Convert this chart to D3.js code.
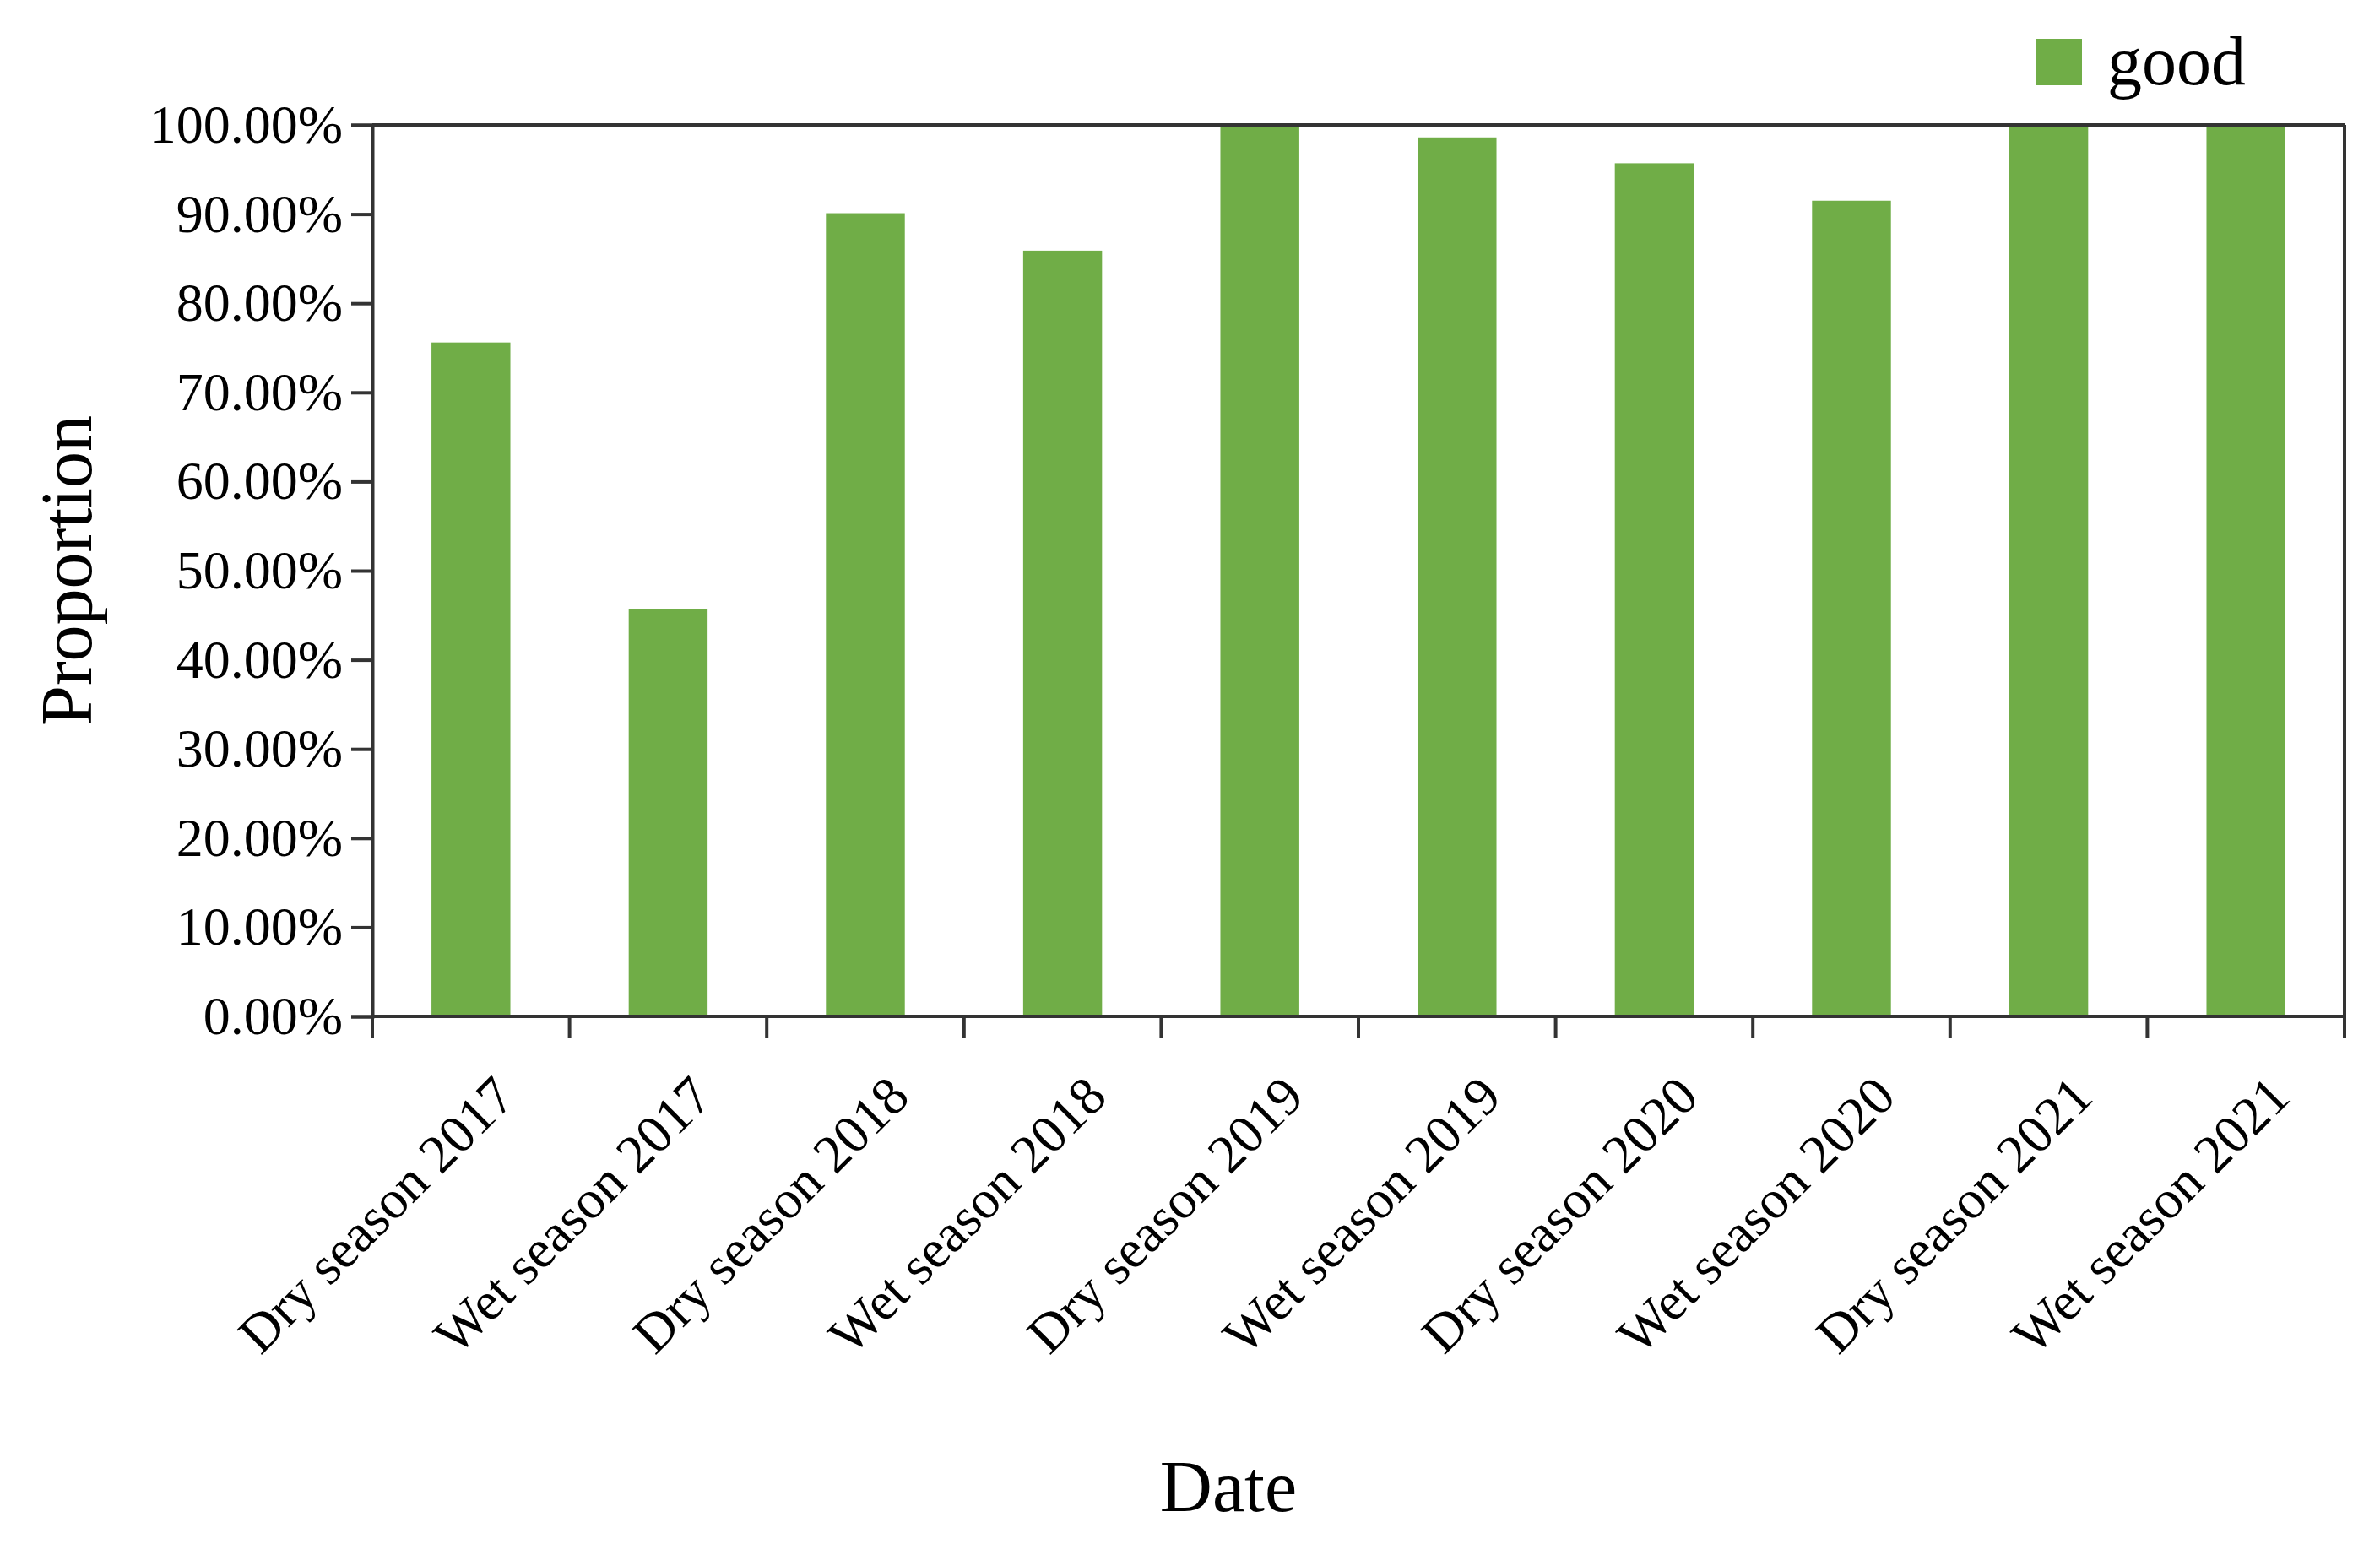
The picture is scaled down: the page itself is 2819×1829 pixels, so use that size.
<!DOCTYPE html>
<html>
<head>
<meta charset="utf-8">
<script src="https://d3js.org/d3.v7.min.js"></script>
<style>
  body { margin: 0; background: #fff; }
  text { font-family: "Liberation Serif", "Times New Roman", serif; fill: #000; }
</style>
</head>
<body>
<svg id="chart" width="2819" height="1829"></svg>
<script>
'use strict';

var categories = ['Dry season 2017', 'Wet season 2017', 'Dry season 2018', 'Wet season 2018',
    'Dry season 2019', 'Wet season 2019', 'Dry season 2020', 'Wet season 2020',
    'Dry season 2021', 'Wet season 2021'];
var goodValues = [75.6, 45.7, 90.1, 85.9, 100, 98.6, 95.7, 91.5, 100, 100];
var yTicks = [0, 10, 20, 30, 40, 50, 60, 70, 80, 90, 100];

function drawChart() {
    var BAR_COLOR = '#70AD47';
    var AXIS_COLOR = '#333';
    var plotLeft = 441, plotRight = 2777, plotTop = 148, plotBottom = 1204;

    var svg = d3.select('#chart');

    var x = d3.scaleBand().domain(categories).range([plotLeft, plotRight]).paddingInner(0).paddingOuter(0);
    var y = d3.scaleLinear().domain([0, 100]).range([plotBottom, plotTop]);

    // bars
    svg.selectAll('.bar').data(goodValues).enter().append('rect')
        .attr('class', 'bar')
        .attr('x', function (d, i) { return x(categories[i]) + x.bandwidth() * 0.3; })
        .attr('width', x.bandwidth() * 0.4)
        .attr('y', function (d) { return y(d); })
        .attr('height', function (d) { return plotBottom - y(d); })
        .attr('fill', BAR_COLOR);

    // frame: top and right
    svg.append('line').attr('x1', plotLeft).attr('x2', plotRight).attr('y1', plotTop).attr('y2', plotTop)
        .attr('stroke', AXIS_COLOR).attr('stroke-width', 4);
    svg.append('line').attr('x1', plotRight).attr('x2', plotRight).attr('y1', plotTop).attr('y2', plotBottom)
        .attr('stroke', AXIS_COLOR).attr('stroke-width', 4);

    // y axis
    var yAxis = svg.append('g').attr('transform', 'translate(' + plotLeft + ',0)')
        .call(d3.axisLeft(y).tickValues(yTicks).tickSize(25).tickPadding(10)
            .tickFormat(function (d) { return d.toFixed(2) + '%'; }));
    yAxis.selectAll('path, line').attr('stroke', AXIS_COLOR).attr('stroke-width', 4);
    yAxis.selectAll('text').attr('font-size', 64).attr('fill', '#000')
        .attr('font-family', '"Liberation Serif", serif');

    // x axis: ticks at band boundaries
    var xAxis = svg.append('g').attr('transform', 'translate(0,' + plotBottom + ')');
    xAxis.append('line').attr('x1', plotLeft).attr('x2', plotRight).attr('stroke', AXIS_COLOR).attr('stroke-width', 4);
    var bounds = categories.map(function (c) { return x(c); }).concat([plotRight]);
    xAxis.selectAll('.xtick').data(bounds).enter().append('line')
        .attr('x1', function (d) { return d; }).attr('x2', function (d) { return d; })
        .attr('y1', 0).attr('y2', 26)
        .attr('stroke', AXIS_COLOR).attr('stroke-width', 4);

    xAxis.selectAll('.xlabel').data(categories).enter().append('text')
        .attr('class', 'xlabel')
        .attr('text-anchor', 'end')
        .attr('font-size', 64)
        .attr('transform', function (d) {
            return 'translate(' + (x(d) + x.bandwidth() / 2 + 55) + ',98) rotate(-45)';
        })
        .text(function (d) { return d; });

    // axis titles
    svg.append('text').attr('x', 1455).attr('y', 1790).attr('text-anchor', 'middle')
        .attr('font-size', 86).text('Date');
    svg.append('text').attr('text-anchor', 'middle').attr('font-size', 86)
        .attr('transform', 'translate(108,' + ((plotTop + plotBottom) / 2) + ') rotate(-90)')
        .text('Proportion');

    // legend
    svg.append('rect').attr('x', 2411).attr('y', 46).attr('width', 55).attr('height', 55).attr('fill', BAR_COLOR);
    svg.append('text').attr('x', 2496).attr('y', 100).attr('font-size', 82).text('good');
}

drawChart();
</script>
</body>
</html>
